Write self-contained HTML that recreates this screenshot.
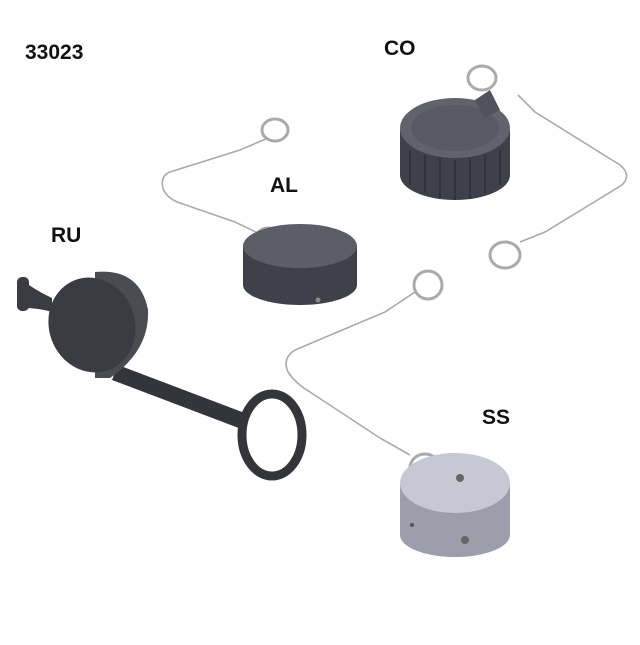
<!DOCTYPE html>
<html><head><style>
body{margin:0;background:#fff}
.l{font-family:"Liberation Sans",sans-serif;font-weight:bold;font-size:21px;fill:#111}
</style></head><body>
<svg width="640" height="640" viewBox="0 0 640 640" xmlns="http://www.w3.org/2000/svg">
<rect width="640" height="640" fill="#fff"/>
<text class="l" x="25" y="59">33023</text>
<text class="l" x="384" y="55">CO</text>
<text class="l" x="270" y="192">AL</text>
<text class="l" x="51" y="242">RU</text>
<text class="l" x="482" y="424">SS</text>

<!-- wires -->
<g fill="none" stroke="#aaa" stroke-width="1.6">
<path d="M268 138 L240 150 L170 172 Q160 176 163 188 Q166 198 180 203 L235 222 L262 235"/>
<path d="M518 95 L535 112 L620 165 Q632 175 622 185 L545 232 L520 242"/>
<path d="M415 292 L385 312 L295 350 Q282 358 288 372 Q296 384 310 392 L380 438 L410 455"/>
</g>
<g fill="none" stroke="#aaa" stroke-width="3">
<ellipse cx="275" cy="130" rx="13" ry="11"/>
<ellipse cx="268" cy="240" rx="13" ry="12"/>
<ellipse cx="482" cy="78" rx="14" ry="12"/>
<ellipse cx="505" cy="255" rx="15" ry="13"/>
<ellipse cx="428" cy="285" rx="14" ry="14"/>
<ellipse cx="425" cy="468" rx="15" ry="14"/>
</g>

<!-- AL cap -->
<path d="M243 246 L243 285 A57 20 0 0 0 357 285 L357 246 Z" fill="#3e4149"/>
<ellipse cx="300" cy="246" rx="57" ry="22" fill="#5b5e67"/>
<circle cx="318" cy="300" r="2.5" fill="#888"/>

<!-- CO cap -->
<path d="M400 130 L400 175 A55 25 0 0 0 510 175 L510 130 Z" fill="#3e4149"/>
<g stroke="#2f3238" stroke-width="2">
<line x1="410" y1="150" x2="410" y2="185"/><line x1="425" y1="155" x2="425" y2="193"/>
<line x1="440" y1="158" x2="440" y2="198"/><line x1="455" y1="160" x2="455" y2="200"/>
<line x1="470" y1="158" x2="470" y2="198"/><line x1="485" y1="155" x2="485" y2="193"/>
<line x1="500" y1="150" x2="500" y2="185"/>
</g>
<ellipse cx="455" cy="128" rx="55" ry="30" fill="#60636c"/>
<ellipse cx="455" cy="128" rx="44" ry="23" fill="#575a63"/>
<path d="M475 100 L490 90 L500 110 L485 118 Z" fill="#50535b"/>

<!-- RU cap -->
<path d="M118 365 L250 415 L244 430 L112 380 Z" fill="#33353b"/>
<ellipse cx="272" cy="435" rx="30" ry="41" fill="none" stroke="#33353b" stroke-width="9"/>
<path d="M95 272 Q140 268 148 310 Q150 350 110 378 L95 378 Z" fill="#4a4c53"/>
<ellipse cx="92" cy="325" rx="43" ry="48" transform="rotate(-20 92 325)" fill="#3a3c42"/>
<path d="M25 282 Q35 290 52 298 L52 312 Q38 308 25 308 Z" fill="#3a3c42"/>
<rect x="17" y="277" width="12" height="34" rx="5" fill="#3a3c42"/>

<!-- SS cap -->
<path d="M400 485 L400 535 A55 22 0 0 0 510 535 L510 485 Z" fill="#9c9eac"/>
<ellipse cx="455" cy="483" rx="55" ry="30" fill="#c6c8d4"/>
<circle cx="460" cy="478" r="4" fill="#666"/>
<circle cx="465" cy="540" r="4" fill="#666"/>
<circle cx="412" cy="525" r="2" fill="#555"/>
</svg>
</body></html>
